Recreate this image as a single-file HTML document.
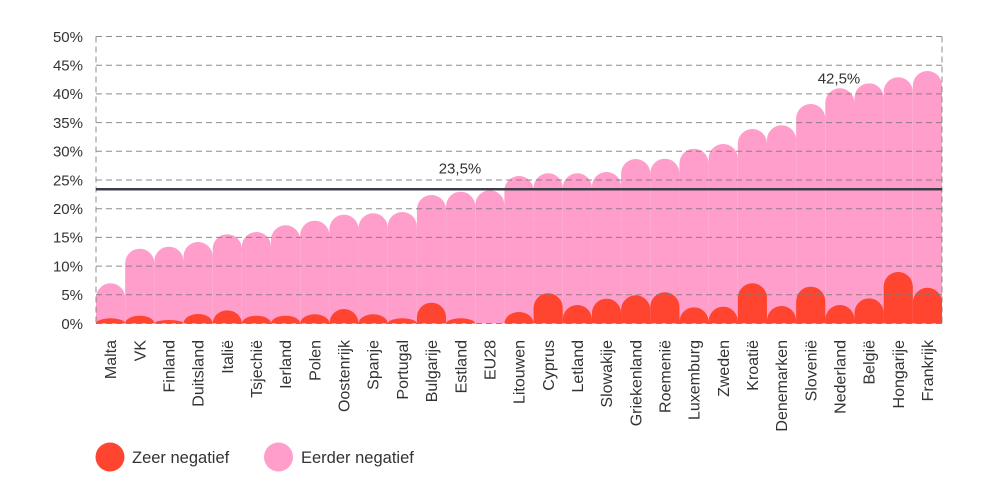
<!DOCTYPE html>
<html>
<head>
<meta charset="utf-8">
<style>
  html,body{margin:0;padding:0;background:#fff;}
  svg{display:block;}
  text{font-family:"Liberation Sans",sans-serif;fill:#333;}
</style>
</head>
<body>
<svg id="c" width="1000" height="501" viewBox="0 0 1000 501" xmlns="http://www.w3.org/2000/svg">
  <g id="pink"></g>
  <g id="red"></g>
  <g id="grid" stroke="#7a7a7a" stroke-width="1" stroke-dasharray="6,4" fill="none" opacity="0.85"></g>
  <line x1="96" y1="189.3" x2="942" y2="189.3" stroke="#3d3d48" stroke-width="2.5"/>
  <text x="460" y="173.5" font-size="15" text-anchor="middle">23,5%</text>
  <text x="839" y="83.5" font-size="15" text-anchor="middle">42,5%</text>
  <g id="ylab" font-size="15" text-anchor="end"></g>
  <g id="xlab" font-size="16" text-anchor="end"></g>
  <circle cx="110" cy="457" r="14.5" fill="#ff4530"/>
  <text x="132" y="463" font-size="16.5">Zeer negatief</text>
  <circle cx="278.5" cy="457" r="14.5" fill="#ff9ecb"/>
  <text x="301" y="463" font-size="16.5">Eerder negatief</text>
</svg>
<script>
(function(){
  var NS="http://www.w3.org/2000/svg";
  var names=["Malta","VK","Finland","Duitsland","Italië","Tsjechië","Ierland","Polen","Oostenrijk","Spanje","Portugal","Bulgarije","Estland","EU28","Litouwen","Cyprus","Letland","Slowakije","Griekenland","Roemenië","Luxemburg","Zweden","Kroatië","Denemarken","Slovenië","Nederland","België","Hongarije","Frankrijk"];
  var pink=[283.3,248.7,246.7,242,234.3,232,225.3,220.7,214.7,213.3,212,195,191.7,190.3,176,173.3,173.3,172,159,158.7,148.7,144,129,125.3,104,88.3,83.3,77.3,71];
  var red=[318.3,315.7,320,314,310.3,315.7,315.7,314.3,309,314.3,318.3,302.7,318.3,null,312,293.3,305,298.7,295.3,292.3,307.3,306.7,283.3,306,286.7,305,298.3,272,287.7];
  var x0=96,x1=942,base=323.5,top=36.5,n=29,w=(x1-x0)/n;
  function bar(i,yt,col){
    var xa=x0+i*w,xb=xa+w,h=base-yt,rx=w/2,ry=Math.min(rx,h);
    var d="M"+xa+" "+base+" L"+xa+" "+(yt+ry)+" A"+rx+" "+ry+" 0 0 1 "+xb+" "+(yt+ry)+" L"+xb+" "+base+" Z";
    var p=document.createElementNS(NS,"path");
    p.setAttribute("d",d);p.setAttribute("fill",col);
    return p;
  }
  var gp=document.getElementById("pink"),gr=document.getElementById("red");
  for(var i=0;i<n;i++){
    gp.appendChild(bar(i,pink[i],"#ff9ecb"));
    if(red[i]!==null) gr.appendChild(bar(i,red[i],"#ff4530"));
  }
  var gg=document.getElementById("grid"),gy=document.getElementById("ylab");
  var step=(base-top)/10;
  for(var k=0;k<=10;k++){
    var y=base-k*step;
    var l=document.createElementNS(NS,"line");
    l.setAttribute("x1",x0);l.setAttribute("x2",x1);l.setAttribute("y1",y);l.setAttribute("y2",y);
    gg.appendChild(l);
    var t=document.createElementNS(NS,"text");
    t.setAttribute("x",83);t.setAttribute("y",y+5.3);t.textContent=(k*5)+"%";
    gy.appendChild(t);
  }
  [x0,x1].forEach(function(x){
    var l=document.createElementNS(NS,"line");
    l.setAttribute("x1",x);l.setAttribute("x2",x);l.setAttribute("y1",top);l.setAttribute("y2",base);
    gg.appendChild(l);
  });
  var gx=document.getElementById("xlab");
  for(var i=0;i<n;i++){
    var cx=x0+(i+0.5)*w;
    var t=document.createElementNS(NS,"text");
    t.setAttribute("transform","translate("+cx+",340) rotate(-90)");
    t.setAttribute("x",0);t.setAttribute("y",5.6);
    t.textContent=names[i];
    gx.appendChild(t);
  }
})();
</script>
</body>
</html>
